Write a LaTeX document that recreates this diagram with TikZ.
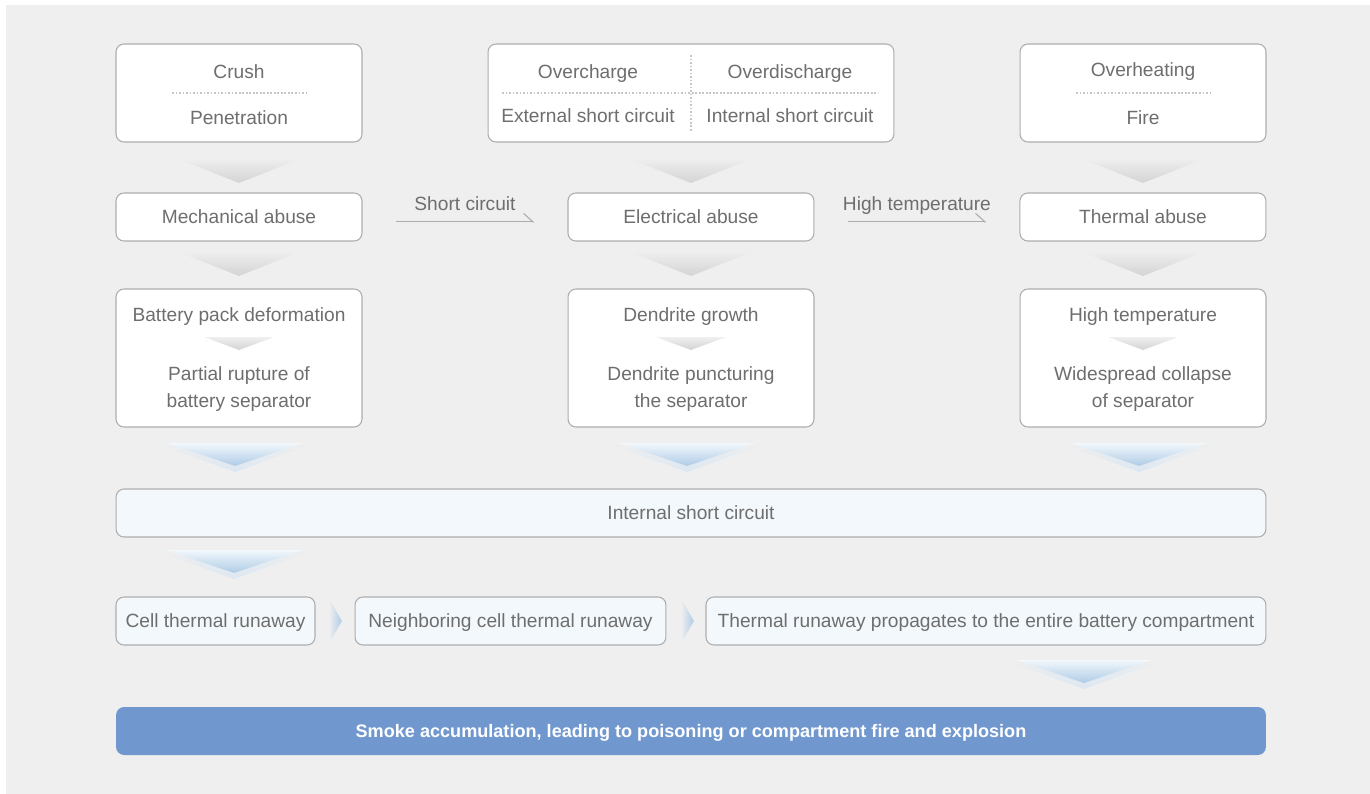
\documentclass[tikz,border=0pt]{standalone}
\usepackage{fontspec}
\setmainfont{Liberation Sans}
\usetikzlibrary{arrows.meta, positioning}

\definecolor{pagebg}{HTML}{EFEFEF}
\definecolor{boxline}{HTML}{ADADAD}
\definecolor{txtgray}{HTML}{6E6E6E}
\definecolor{dotline}{HTML}{C6C6C6}
\definecolor{paleblue}{HTML}{F2F8FC}
\definecolor{chevblue}{HTML}{AECBE6}
\definecolor{chevpale}{HTML}{DCE7F2}
\definecolor{barblue}{HTML}{7098CF}

\begin{document}
\begin{tikzpicture}[
  x=0.02cm, y=-0.02cm,
  every node/.style={font=\fontsize{10.9}{15.3}\selectfont, text=txtgray},
  box/.style={rectangle, draw=boxline, fill=white, line width=0.6pt, rounded corners=4.5pt, minimum width=4.92cm, minimum height=0.96cm, inner sep=0pt, text height=1.45ex, text depth=0.1ex},
  tallbox/.style={box, minimum height=1.96cm},
  stepbox/.style={box, minimum height=2.76cm},
  bluebox/.style={box, fill=paleblue},
  divider/.style={dotline, dash pattern=on 1pt off 1pt, line width=0.6pt},
  halfarrow/.style={-{Straight Barb[left, length=1.9mm, width=3.4mm]}, boxline, line width=0.6pt},
  arrowlabel/.style={anchor=base, yshift=6.5pt},
  graychev/.style={top color=pagebg, bottom color=black!17},
  chevouter/.style={top color=pagebg, bottom color=chevpale},
  chevinner/.style={top color=paleblue, bottom color=chevblue}
]
\useasboundingbox (0,0) rectangle (1370,794);
\fill[pagebg] (6,5) rectangle (1370,794);

% Causes of abuse
\node[tallbox] (crushbox) at (239,93) {};
\node[tallbox, minimum width=8.12cm] (elecbox) at (691,93) {};
\node[tallbox] (heatbox) at (1143,93) {};
\node (crush) at (239,72) {Crush};
\node (penetration) at (239,118) {Penetration};
\node (overcharge) at (588,74) {Overcharge};
\node (overdischarge) at (790,74) {Overdischarge};
\node (extsc) at (588,116) {External short circuit};
\node (intsc) at (790,116) {Internal short circuit};
\node (overheat) at (1143,72) {Overheating};
\node (fire) at (1143,118) {Fire};
\draw[divider] (172,93) -- (307,93);
\draw[divider] (1076,93) -- (1211,93);
\draw[divider] (502,93) -- (878,93);
\draw[divider] (691,55) -- (691,132);

% Abuse types
\node[box] (mech) at (239,217) {Mechanical abuse};
\node[box, right=4.1cm of mech] (elec) {Electrical abuse};
\node[box, right=4.1cm of elec] (therm) {Thermal abuse};
\draw[halfarrow, shorten <=0.68cm, shorten >=0.66cm] ([yshift=-2.8pt]mech.east) -- node[arrowlabel]{Short circuit} ([yshift=-2.8pt]elec.west);
\draw[halfarrow, shorten <=0.68cm, shorten >=0.66cm] ([yshift=-2.8pt]elec.east) -- node[arrowlabel]{High temperature} ([yshift=-2.8pt]therm.west);

% Separator failure
\node[stepbox] (deform) at (239,358) {};
\node[stepbox] (dendrite) at (691,358) {};
\node[stepbox] (collapse) at (1143,358) {};
\node (packdef) at (239,317) {Battery pack deformation};
\node[align=center] (rupture) at (239,389) {Partial rupture of\\battery separator};
\node (growth) at (691,317) {Dendrite growth};
\node[align=center] (puncture) at (691,389) {Dendrite puncturing\\the separator};
\node (hightemp) at (1143,317) {High temperature};
\node[align=center] (widecoll) at (1143,389) {Widespread collapse\\of separator};

% Internal short circuit and runaway chain
\node[bluebox, minimum width=23cm] (isc) at (691,513) {Internal short circuit};
\node[bluebox, minimum width=3.98cm] (cell) at (215.5,621) {Cell thermal runaway};
\node[bluebox, minimum width=6.22cm, right=0.78cm of cell] (neigh) {Neighboring cell thermal runaway};
\node[bluebox, minimum width=11.2cm, right=0.78cm of neigh] (spread) {Thermal runaway propagates to the entire battery compartment};
\node[box, draw=none, fill=barblue, minimum width=23cm, text=white, font=\bfseries\fontsize{10.3}{12}\selectfont] (smoke) at (691,731) {Smoke accumulation, leading to poisoning or compartment fire and explosion};

% Chevrons
\foreach \cx/\ty in {239/158, 691/158, 1143/158, 239/251, 691/251, 1143/251} {
  \shade[graychev] (\cx-63,\ty) -- (\cx+63,\ty) -- (\cx,\ty+25) -- cycle;
}
\foreach \cx in {239, 691, 1143} {
  \shade[graychev] (\cx-35,337) -- (\cx+35,337) -- (\cx,350) -- cycle;
}
\foreach \cx/\ty in {235/443, 687/443, 1139/443, 234/550, 1084/660} {
  \shade[chevouter] (\cx-80,\ty) -- (\cx+80,\ty) -- (\cx,\ty+29) -- cycle;
  \shade[chevinner] (\cx-68,\ty) -- (\cx+68,\ty) -- (\cx,\ty+23) -- cycle;
}
\foreach \cx in {329, 681} {
  \shade[left color=pagebg, right color=chevblue] (\cx,599) -- (\cx+13,621) -- (\cx,643) -- cycle;
}

\end{tikzpicture}
\end{document}
